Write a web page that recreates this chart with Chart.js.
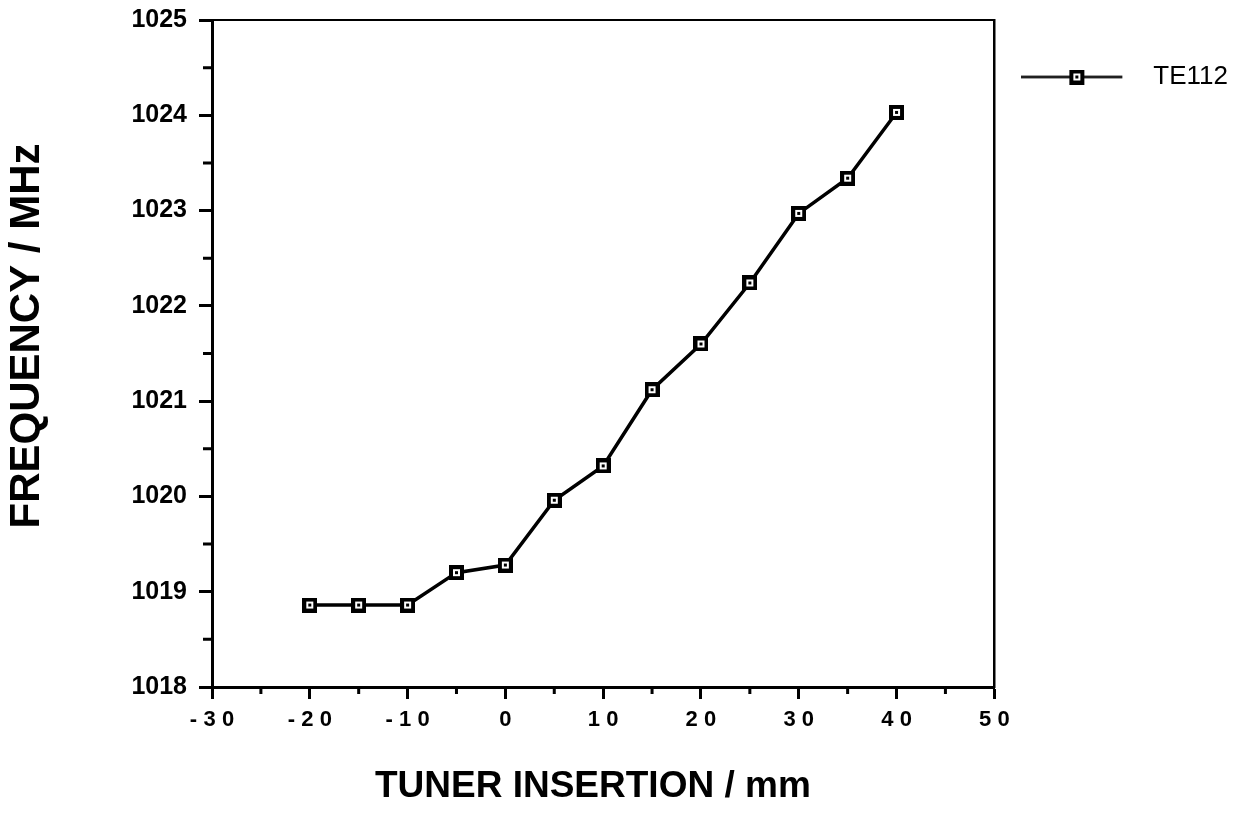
<!DOCTYPE html>
<html>
<head>
<meta charset="utf-8">
<script src="https://cdn.jsdelivr.net/npm/chart.js@4"></script>
<style>
  body { margin: 0; background: #fff; }
  canvas { display: block; }
</style>
</head>
<body>
<canvas id="chart1" width="1241" height="819"></canvas>
<script>
// tuner insertion (mm) and TE112 frequency (MHz)
const insertion = [-20, -15, -10, -5, 0, 5, 10, 15, 20, 25, 30, 35, 40];
const freqTE112 = [1018.86, 1018.86, 1018.86, 1019.20, 1019.28, 1019.96, 1020.32, 1021.12, 1021.60, 1022.24, 1022.97, 1023.34, 1024.03];
const seriesName = 'TE112';
const xMinorTicks = [-25, -15, -5, 5, 15, 25, 35, 45];
const yMinorTicks = [1018.5, 1019.5, 1020.5, 1021.5, 1022.5, 1023.5, 1024.5];

const fontFam = '"Liberation Sans", Arial, Helvetica, sans-serif';

// square marker: black box, white hole, dot in the middle
function makeMarker() {
  const c = document.createElement('canvas');
  c.width = 15; c.height = 15;
  const g = c.getContext('2d');
  g.fillStyle = '#000'; g.fillRect(0, 0, 15, 15);
  g.fillStyle = '#fff'; g.fillRect(4, 4, 7, 7);
  g.fillStyle = '#000'; g.fillRect(6, 6, 3, 3);
  return c;
}
const marker = makeMarker();

// legend symbol: line with the marker on it
function makeLegendSymbol() {
  const c = document.createElement('canvas');
  c.width = 119; c.height = 15;
  const g = c.getContext('2d');
  g.strokeStyle = '#000'; g.lineWidth = 2.5;
  g.beginPath(); g.moveTo(0, 7.5); g.lineTo(101, 7.5); g.stroke();
  g.drawImage(marker, 48, 0);
  return c;
}

const minorTicks = {
  id: 'minorTicks',
  afterDraw(chart) {
    const ctx = chart.ctx;
    const xs = chart.scales.x, ys = chart.scales.y;
    ctx.save();
    ctx.strokeStyle = '#000';
    ctx.lineWidth = 3;
    ctx.beginPath();
    xMinorTicks.forEach(v => {
      const px = xs.getPixelForValue(v);
      ctx.moveTo(px, xs.top); ctx.lineTo(px, xs.top + 7);
    });
    yMinorTicks.forEach(v => {
      const py = ys.getPixelForValue(v);
      ctx.moveTo(ys.right - 9, py); ctx.lineTo(ys.right, py);
    });
    ctx.stroke();
    ctx.restore();
  }
};

new Chart(document.getElementById('chart1'), {
  type: 'line',
  data: {
    datasets: [{
      label: seriesName,
      data: insertion.map((x, i) => ({ x: x, y: freqTE112[i] })),
      borderColor: '#000',
      borderWidth: 3.5,
      tension: 0,
      pointStyle: marker,
      pointRadius: 7,
      pointHoverRadius: 7
    }]
  },
  options: {
    responsive: false,
    animation: false,
    layout: { padding: { top: 20, left: 0, right: 3, bottom: 0 } },
    plugins: {
      tooltip: { enabled: false },
      legend: {
        position: 'right',
        align: 'start',
        maxWidth: 247,
        title: { display: true, text: '', padding: { top: 1.3, bottom: 1.3 }, font: { size: 12 } },
        labels: {
          usePointStyle: true,
          pointStyle: makeLegendSymbol(),
          pointStyleWidth: 119,
          padding: 27,
          color: '#000',
          font: { family: fontFam, size: 26 }
        }
      }
    },
    scales: {
      x: {
        type: 'linear',
        min: -30, max: 50,
        afterFit(s) { s.height = 132; },
        ticks: {
          stepSize: 10,
          color: '#000',
          padding: 8,
          font: { family: fontFam, size: 22, weight: 'bold' },
          callback: v => String(v).split('').join('\u2009\u200a')
        },
        grid: { drawOnChartArea: false, color: '#000', tickLength: 12, tickWidth: 3 },
        border: { color: '#000', width: 3 },
        title: {
          display: true,
          text: 'TUNER INSERTION / mm  ',
          color: '#000',
          font: { family: fontFam, size: 37, weight: 'bold' },
          padding: { top: 0, bottom: 10 }
        }
      },
      x2: {
        type: 'linear',
        position: 'top',
        min: -30, max: 50,
        afterFit(s) { s.height = 0; },
        ticks: { display: false },
        grid: { display: false },
        border: { color: '#000', width: 2 }
      },
      y: {
        type: 'linear',
        min: 1018, max: 1025,
        afterFit(s) { s.width = 212; s.paddingTop = 0; s.paddingBottom = 0; },
        ticks: {
          stepSize: 1,
          color: '#000',
          padding: 12,
          font: { family: fontFam, size: 25, weight: 'bold' },
          callback: v => String(v)
        },
        grid: { drawOnChartArea: false, color: '#000', tickLength: 13, tickWidth: 3 },
        border: { color: '#000', width: 3 },
        title: {
          display: true,
          text: '   FREQUENCY / MHz',
          color: '#000',
          font: { family: fontFam, size: 42, weight: 'bold' },
          padding: { top: 2, bottom: 0 }
        }
      },
      y2: {
        type: 'linear',
        position: 'right',
        min: 1018, max: 1025,
        afterFit(s) { s.width = 0; },
        ticks: { display: false },
        grid: { display: false },
        border: { color: '#000', width: 2.5 }
      }
    }
  },
  plugins: [minorTicks]
});
</script>
</body>
</html>
